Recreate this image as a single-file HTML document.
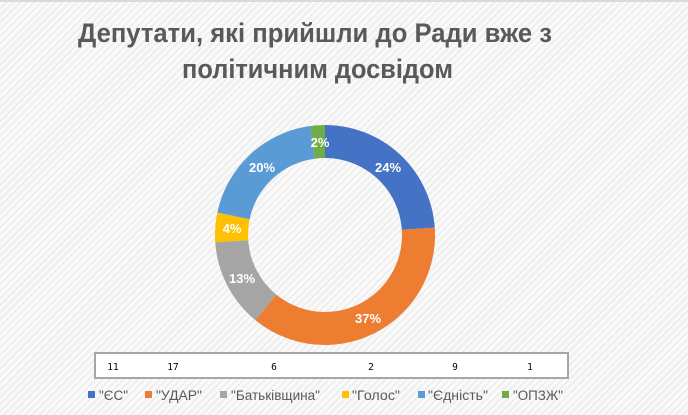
<!DOCTYPE html>
<html><head><meta charset="utf-8"><style>
html,body{margin:0;padding:0;width:688px;height:415px;overflow:hidden;background:#fff}
</style></head><body>
<svg width="688" height="415" viewBox="0 0 688 415" xmlns="http://www.w3.org/2000/svg" font-family="Liberation Sans, DejaVu Sans, sans-serif">
<defs>
<pattern id="st" width="5" height="5" patternUnits="userSpaceOnUse" patternTransform="rotate(45)">
<rect width="5" height="5" fill="#fafafa"/><rect width="2" height="5" fill="#eeeeee"/>
</pattern>
</defs>
<rect width="688" height="415" fill="url(#st)"/>
<rect x="0" y="0" width="688" height="2" fill="#d9d9d9"/>
<g font-weight="bold" fill="#595959" font-size="27" text-anchor="start">
<text x="78" y="42" textLength="474" lengthAdjust="spacingAndGlyphs">Депутати, які прийшли до Ради вже з</text>
<text x="182" y="78" textLength="271" lengthAdjust="spacingAndGlyphs">політичним досвідом</text>
</g>
<g transform="rotate(-90 325 235)" fill="none" stroke-width="33">
<circle cx="325" cy="235" r="93.5" stroke="#4472c4" stroke-dasharray="140.48 1000" stroke-dashoffset="0"/>
<circle cx="325" cy="235" r="93.5" stroke="#ed7d31" stroke-dasharray="217.11 1000" stroke-dashoffset="-140.48"/>
<circle cx="325" cy="235" r="93.5" stroke="#a5a5a5" stroke-dasharray="76.63 1000" stroke-dashoffset="-357.59"/>
<circle cx="325" cy="235" r="93.5" stroke="#ffc000" stroke-dasharray="25.54 1000" stroke-dashoffset="-434.22"/>
<circle cx="325" cy="235" r="93.5" stroke="#5b9bd5" stroke-dasharray="114.94 1000" stroke-dashoffset="-459.76"/>
<circle cx="325" cy="235" r="93.5" stroke="#70ad47" stroke-dasharray="12.78 1000" stroke-dashoffset="-574.70"/>
</g>
<g fill="#fff" font-weight="bold" font-size="13" text-anchor="middle">
<text x="388" y="172">24%</text>
<text x="368" y="323">37%</text>
<text x="242" y="283">13%</text>
<text x="232" y="233">4%</text>
<text x="262" y="172">20%</text>
<text x="320" y="147">2%</text>
</g>
<rect x="95" y="353" width="473" height="25" fill="#fff" stroke="#a6a6a6" stroke-width="2"/>
<g font-family="DejaVu Sans Mono, Liberation Mono, monospace" font-size="9.5" fill="#000" text-anchor="middle">
<text x="113" y="370">11</text><text x="173" y="370">17</text><text x="274" y="370">6</text>
<text x="371" y="370">2</text><text x="455" y="370">9</text><text x="530" y="370">1</text>
</g>
<g font-size="13.5" fill="#595959">
<rect x="88" y="391" width="7" height="7" fill="#4472c4"/><text x="99" y="400" textLength="29" lengthAdjust="spacingAndGlyphs">"ЄС"</text>
<rect x="145" y="391" width="7" height="7" fill="#ed7d31"/><text x="156" y="400" textLength="46" lengthAdjust="spacingAndGlyphs">"УДАР"</text>
<rect x="220" y="391" width="7" height="7" fill="#a5a5a5"/><text x="231" y="400" textLength="89" lengthAdjust="spacingAndGlyphs">"Батьківщина"</text>
<rect x="342" y="391" width="7" height="7" fill="#ffc000"/><text x="352" y="400" textLength="48" lengthAdjust="spacingAndGlyphs">"Голос"</text>
<rect x="418" y="391" width="7" height="7" fill="#5b9bd5"/><text x="428" y="400" textLength="60" lengthAdjust="spacingAndGlyphs">"Єдність"</text>
<rect x="502" y="391" width="7" height="7" fill="#70ad47"/><text x="513" y="400" textLength="50" lengthAdjust="spacingAndGlyphs">"ОПЗЖ"</text>
</g>
</svg>
</body></html>
